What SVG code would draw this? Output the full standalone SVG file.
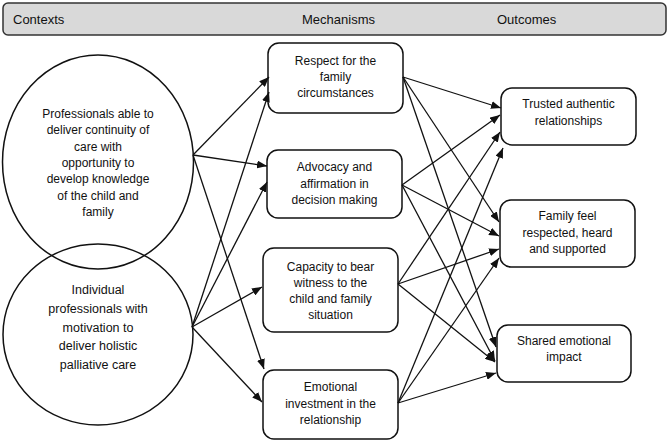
<svg xmlns="http://www.w3.org/2000/svg" width="669" height="443" viewBox="0 0 669 443">
<style>
text{font-family:"Liberation Sans",Arial,sans-serif;font-size:12px;fill:#111;text-anchor:middle}
.hdr{font-size:13px;text-anchor:start}
.c2 text{font-size:12.5px}
.box{fill:#fff;stroke:#111;stroke-width:1.5}
.circ{fill:none;stroke:#111;stroke-width:1.5}
.conn line{stroke:#111;stroke-width:1.3;marker-end:url(#ah)}
</style>
<defs>
<marker id="ah" markerUnits="userSpaceOnUse" markerWidth="10" markerHeight="8" refX="10" refY="4" orient="auto">
<path d="M0,0 L10,4 L0,8 z" fill="#111"/>
</marker>
</defs>
<rect width="669" height="443" fill="#fff"/>
<g id="header">
<rect x="3" y="3" width="663" height="32" rx="5" fill="#d9d9d9" stroke="#333" stroke-width="1.5"/>
<text class="hdr" x="13" y="24">Contexts</text>
<text class="hdr" x="302" y="24">Mechanisms</text>
<text class="hdr" x="497" y="24">Outcomes</text>
</g>
<g id="context1">
<ellipse class="circ" cx="98" cy="162" rx="95.5" ry="107"/>
<text x="98" y="118">Professionals able to</text>
<text x="98" y="134.3">deliver continuity of</text>
<text x="98" y="150.6">care with</text>
<text x="98" y="166.9">opportunity to</text>
<text x="98" y="183.2">develop knowledge</text>
<text x="98" y="199.5">of the child and</text>
<text x="98" y="215.8">family</text>
</g>
<g id="context2" class="c2">
<ellipse class="circ" cx="98" cy="334.5" rx="95" ry="90.5"/>
<text x="98" y="294">Individual</text>
<text x="98" y="312.8">professionals with</text>
<text x="98" y="331.5">motivation to</text>
<text x="98" y="350.3">deliver holistic</text>
<text x="98" y="369">palliative care</text>
</g>
<g id="mech1">
<rect class="box" x="268" y="43" width="135" height="70" rx="11"/>
<text x="335.5" y="65">Respect for the</text>
<text x="335.5" y="81">family</text>
<text x="335.5" y="97">circumstances</text>
</g>
<g id="mech2">
<rect class="box" x="267" y="150" width="135" height="68" rx="11"/>
<text x="334.5" y="171">Advocacy and</text>
<text x="334.5" y="187.5">affirmation in</text>
<text x="334.5" y="204">decision making</text>
</g>
<g id="mech3">
<rect class="box" x="263" y="248" width="135" height="84" rx="11"/>
<text x="330.5" y="271">Capacity to bear</text>
<text x="330.5" y="287">witness to the</text>
<text x="330.5" y="303">child and family</text>
<text x="330.5" y="319">situation</text>
</g>
<g id="mech4">
<rect class="box" x="263" y="370" width="135" height="69" rx="11"/>
<text x="330.5" y="391">Emotional</text>
<text x="330.5" y="407.5">investment in the</text>
<text x="330.5" y="424">relationship</text>
</g>
<g id="out1">
<rect class="box" x="501" y="88" width="135" height="57" rx="11"/>
<text x="568.5" y="108">Trusted authentic</text>
<text x="568.5" y="125">relationships</text>
</g>
<g id="out2">
<rect class="box" x="500" y="200" width="135" height="67" rx="11"/>
<text x="567.5" y="220">Family feel</text>
<text x="567.5" y="237">respected, heard</text>
<text x="567.5" y="253">and supported</text>
</g>
<g id="out3">
<rect class="box" x="497" y="325" width="134" height="57" rx="11"/>
<text x="564" y="345">Shared emotional</text>
<text x="564" y="361">impact</text>
</g>
<g id="connectors" class="conn">
<line x1="193" y1="155" x2="269" y2="77"/>
<line x1="193" y1="155" x2="267" y2="166"/>
<line x1="193" y1="155" x2="264" y2="369"/>
<line x1="192" y1="327" x2="269" y2="92"/>
<line x1="192" y1="327" x2="267" y2="182"/>
<line x1="192" y1="327" x2="262" y2="287"/>
<line x1="192" y1="327" x2="262" y2="402"/>
<line x1="403" y1="77" x2="501" y2="108"/>
<line x1="403" y1="77" x2="499" y2="222"/>
<line x1="403" y1="77" x2="496" y2="347"/>
<line x1="402" y1="185" x2="500" y2="115"/>
<line x1="402" y1="185" x2="499" y2="236"/>
<line x1="402" y1="185" x2="495" y2="361"/>
<line x1="398" y1="284" x2="500" y2="132"/>
<line x1="398" y1="284" x2="499" y2="249"/>
<line x1="398" y1="284" x2="495" y2="362"/>
<line x1="398" y1="403" x2="503" y2="148"/>
<line x1="398" y1="403" x2="499" y2="258"/>
<line x1="398" y1="403" x2="496" y2="373"/>
</g>
</svg>
